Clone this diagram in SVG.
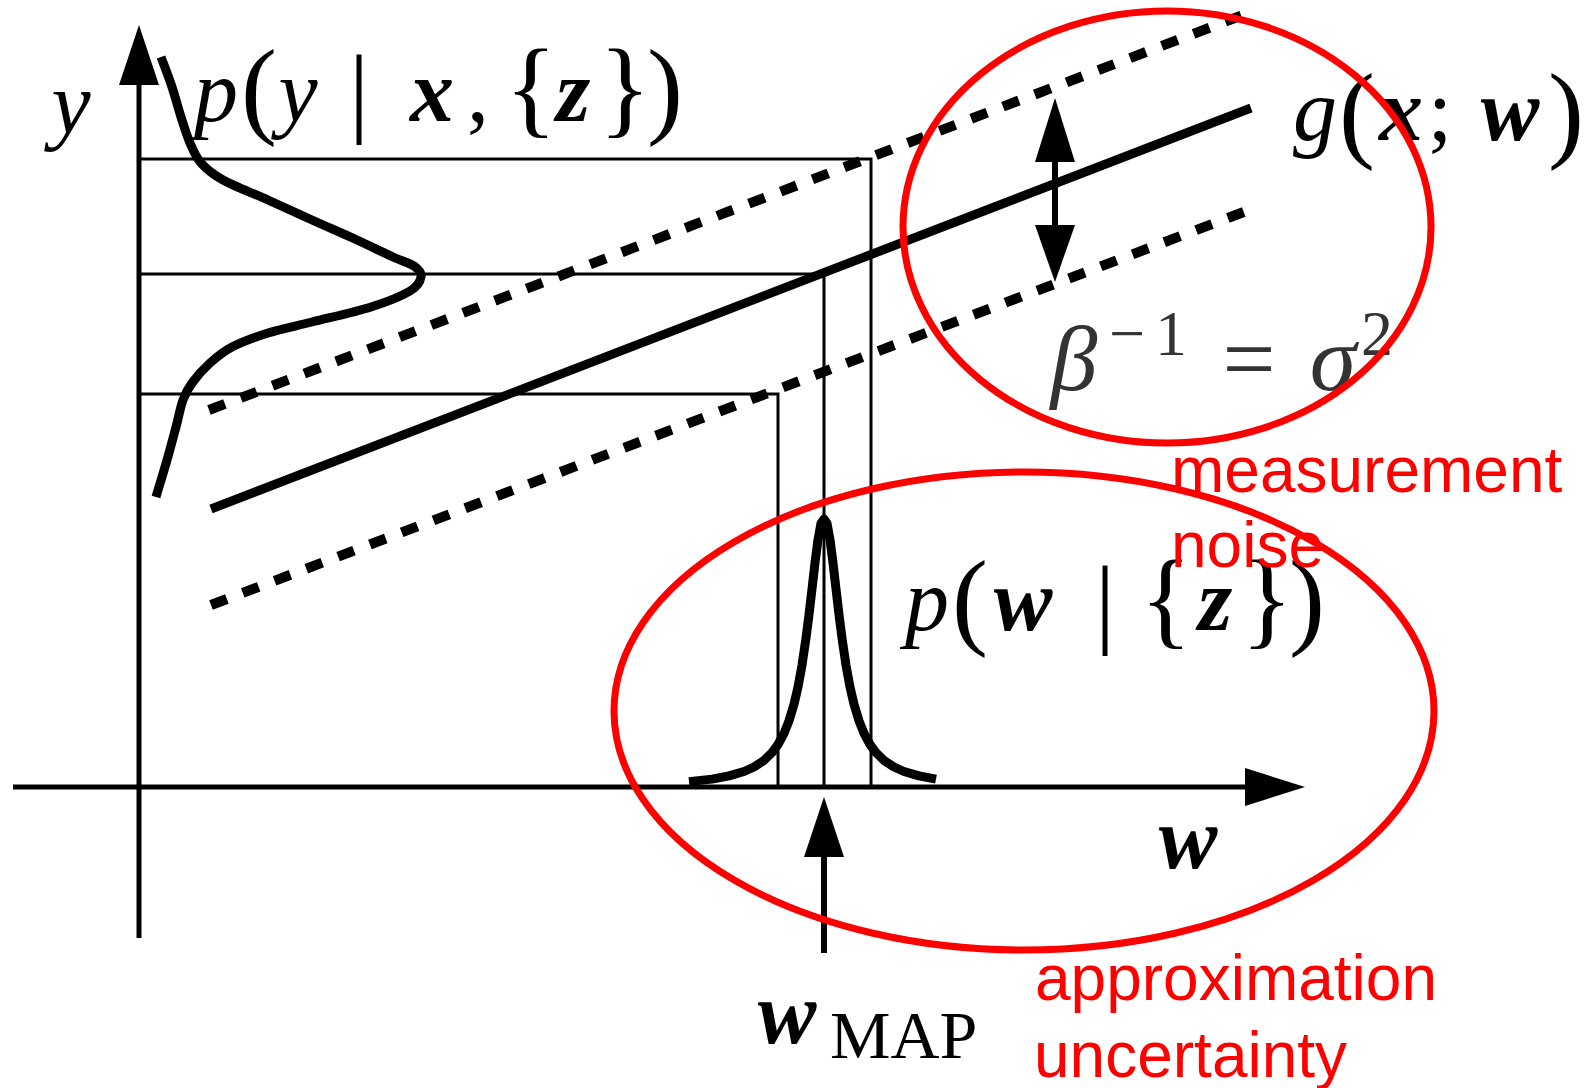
<svg xmlns="http://www.w3.org/2000/svg" width="1586" height="1088" viewBox="0 0 1586 1088">
<style>
.ax{stroke:#000;stroke-width:5;fill:none}
.gd{stroke:#000;stroke-width:3;fill:none}
.th{stroke:#000;stroke-width:9;fill:none;stroke-linejoin:round}
.ds{stroke:#000;stroke-width:10;fill:none;stroke-dasharray:17 17}
.sh{stroke:#000;stroke-width:6}
.hd{fill:#000}
.rd{fill:none;stroke:#f00;stroke-width:7}
.m{font-family:"Liberation Serif","Times New Roman",serif;font-style:italic;font-size:88px;fill:#000;text-anchor:middle}
.b{font-weight:bold}
.d{font-style:normal;font-size:108px}
.v{font-style:normal;font-size:100px}
.g{fill:#333}
.lbl{font-family:"Liberation Sans",Arial,sans-serif;font-size:64px;fill:#f00}
</style>
<rect width="1586" height="1088" fill="#fff"/>
<g id="guides">
<polyline class="gd" points="139,159 871,159 871,787"/>
<polyline class="gd" points="139,274 824,274 824,787"/>
<polyline class="gd" points="139,394 778,394 778,787"/>
</g>
<g id="axes">
<line class="ax" x1="139" y1="938" x2="139" y2="80"/>
<polygon class="hd" points="139,25 119,85 159,85"/>
<line class="ax" x1="13" y1="787" x2="1250" y2="787"/>
<polygon class="hd" points="1305,787 1245,768 1245,806"/>
</g>
<g id="regression">
<line class="th" x1="211" y1="509" x2="1251" y2="108"/>
<line class="ds" x1="209" y1="410" x2="1248" y2="13"/>
<line class="ds" x1="211" y1="605" x2="1249" y2="210"/>
</g>
<g id="likelihood-curve">
<path class="th" d="M161,57 C162.8,62 168.7,77 172,87 C175.3,97 178,107.7 181,117 C184,126.3 186.7,135.3 190,143 C193.3,150.7 195.5,156.8 201,163 C206.5,169.2 211.8,173.8 223,180 C234.2,186.2 253.2,193.3 268,200 C282.8,206.7 297.2,213.3 312,220 C326.8,226.7 343.5,233.8 357,240 C370.5,246.2 383.5,252.7 393,257 C402.5,261.3 409.3,262.7 414,266 C418.7,269.3 421.7,272.8 421,277 C420.3,281.2 418.3,286 410,291 C401.7,296 387.3,301.8 371,307 C354.7,312.2 329.2,317.7 312,322 C294.8,326.3 281.3,328.8 268,333 C254.7,337.2 241.7,342 232,347 C222.3,352 216.7,357 210,363 C203.3,369 196.5,376.8 192,383 C187.5,389.2 185.7,392.7 183,400 C180.3,407.3 178.7,417 176,427 C173.3,437 170.3,448.3 167,460 C163.7,471.7 157.8,490.8 156,497"/>
</g>
<g id="posterior-curve">
<path class="th" d="M689,781.6 L712,779.1 L729,775.9 L744,771.5 L754,767 L764,760.4 L772,752.6 L778,744.5 L784,733.4 L789,720.9 L794,704.3 L798,687 L802,665.2 L806,638.2 L809,614.6 L812,588.9 L815,562.8 L818,539.7 L821,523.3 L824,519 L827,523.3 L830,539.7 L833,562.8 L836,588.9 L839,614.6 L842,638.2 L846,665.2 L850,687 L854,704.3 L859,720.9 L864,733.4 L870,744.5 L876,752.6 L884,760.4 L894,767 L904,771.5 L919,775.9 L936,779.1"/>
</g>
<g id="arrows">
<line class="sh" x1="1055" y1="160" x2="1055" y2="227"/>
<polygon class="hd" points="1055,98 1035,162 1075,162"/>
<polygon class="hd" points="1055,282 1035,225 1075,225"/>
<line class="sh" x1="824" y1="855" x2="824" y2="953"/>
<polygon class="hd" points="824,797 804,857 844,857"/>
</g>
<g id="math-labels">
<text class="m"><tspan x="71" y="133">y</tspan></text>
<text class="m"><tspan x="216" y="121">p</tspan><tspan class="d" x="259" y="124">(</tspan><tspan x="298" y="121">y</tspan><tspan class="v" x="359" y="124">|</tspan><tspan class="b" x="432" y="121">x</tspan><tspan x="478" y="121" style="font-style:normal">,</tspan><tspan class="d" x="531" y="124">{</tspan><tspan class="b" x="573" y="121">z</tspan><tspan class="d" x="625" y="124">}</tspan><tspan class="d" x="665" y="124">)</tspan></text>
<text class="m"><tspan x="1315" y="140">g</tspan><tspan class="d" x="1357" y="148">(</tspan><tspan class="b" x="1401" y="140">x</tspan><tspan x="1440" y="140" style="font-style:normal">;</tspan><tspan class="b" x="1510" y="140">w</tspan><tspan class="d" x="1566" y="148">)</tspan></text>
<text class="m g" style="font-size:94px"><tspan x="1074" y="390">β</tspan><tspan x="1127" y="355" style="font-style:normal;font-size:64px">−</tspan><tspan x="1171" y="355" style="font-style:normal;font-size:64px">1</tspan><tspan x="1249" y="390" style="font-style:normal">=</tspan><tspan x="1333" y="390">σ</tspan><tspan x="1377" y="355" style="font-style:normal;font-size:64px">2</tspan></text>
<text class="m"><tspan x="927" y="630">p</tspan><tspan class="d" x="970" y="635">(</tspan><tspan class="b" x="1023" y="630">w</tspan><tspan class="v" x="1105" y="635">|</tspan><tspan class="d" x="1166" y="635">{</tspan><tspan class="b" x="1215" y="630">z</tspan><tspan class="d" x="1267" y="635">}</tspan><tspan class="d" x="1307" y="635">)</tspan></text>
<text class="m b" x="1188" y="868">w</text>
<text class="m"><tspan class="b" x="787" y="1043">w</tspan><tspan x="830" y="1058" style="font-style:normal;font-size:68px;text-anchor:start">MAP</tspan></text>
</g>
<g id="measurement-noise">
<ellipse class="rd" cx="1167" cy="227" rx="264" ry="216"/>
<text class="lbl" x="1171" y="492">measurement</text>
<text class="lbl" x="1171" y="567">noise</text>
</g>
<g id="approximation-uncertainty">
<ellipse class="rd" cx="1024" cy="711" rx="410" ry="239"/>
<text class="lbl" x="1035" y="1000">approximation</text>
<text class="lbl" x="1034" y="1077">uncertainty</text>
</g>
</svg>
